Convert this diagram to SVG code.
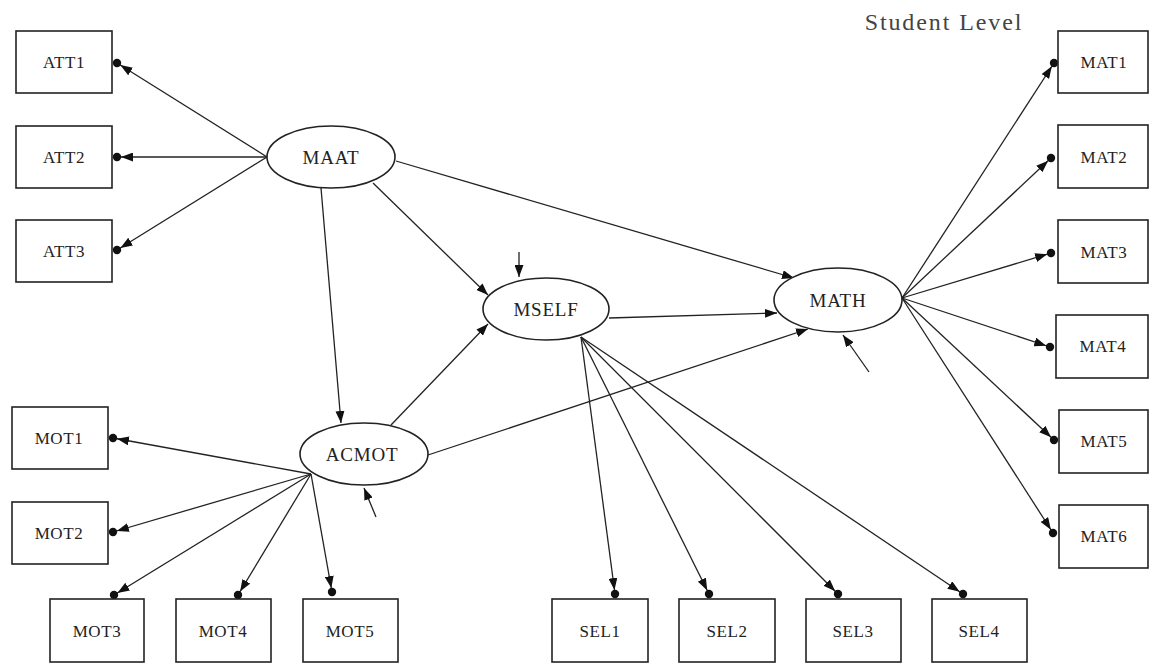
<svg xmlns="http://www.w3.org/2000/svg" width="1150" height="663" viewBox="0 0 1150 663">
<style>
.box{fill:#fff;stroke:#222;stroke-width:1.6}
.ell{fill:#fff;stroke:#222;stroke-width:1.6}
.bl{font-family:"Liberation Serif",serif;font-size:17px;letter-spacing:0.6px;fill:#222;text-anchor:middle}
.el{font-family:"Liberation Serif",serif;font-size:19px;letter-spacing:0.8px;fill:#222;text-anchor:middle}
.ind{fill:none;stroke:#222;stroke-width:1.3;marker-end:url(#ah2)}
.str{fill:none;stroke:#222;stroke-width:1.3;marker-end:url(#ah)}
.dot{fill:#111}
</style>
<defs>
<marker id="ah" markerUnits="userSpaceOnUse" markerWidth="13" markerHeight="9" refX="12" refY="4.5" orient="auto"><path d="M0,0 L12,4.5 L0,9 z" fill="#111"/></marker>
<marker id="ah2" markerUnits="userSpaceOnUse" markerWidth="18" markerHeight="9" refX="16" refY="4.5" orient="auto"><path d="M0,0 L12,4.5 L0,9 z" fill="#111"/></marker>
</defs>
<rect width="1150" height="663" fill="#fff"/>
<text x="944" y="30" font-family="Liberation Serif, serif" font-size="24" letter-spacing="1.9" fill="#444" text-anchor="middle">Student Level</text>
<g id="connectors">
<path class="ind" d="M267,157 L117,63"/>
<path class="ind" d="M267,157 L117,157"/>
<path class="ind" d="M267,157 L117,250"/>
<path class="ind" d="M902,298 L1054,63"/>
<path class="ind" d="M902,298 L1051,158"/>
<path class="ind" d="M902,298 L1051,253"/>
<path class="ind" d="M902,298 L1050,347"/>
<path class="ind" d="M902,298 L1054,440"/>
<path class="ind" d="M902,298 L1053,533"/>
<path class="ind" d="M311,474 L113,438"/>
<path class="ind" d="M311,474 L113,532"/>
<path class="ind" d="M311,474 L114,595"/>
<path class="ind" d="M311,474 L238,595"/>
<path class="ind" d="M311,474 L332,592"/>
<path class="ind" d="M581,337 L615,594"/>
<path class="ind" d="M581,337 L709,594"/>
<path class="ind" d="M581,337 L838,594"/>
<path class="ind" d="M581,337 L963,594"/>
<path class="str" d="M321,188 L341,423"/>
<path class="str" d="M373,183 L488,295"/>
<path class="str" d="M396,161 L794,278"/>
<path class="str" d="M609,318 L777,313"/>
<path class="str" d="M391,425 L488,324"/>
<path class="str" d="M428,455 L808,329"/>
<path class="str" d="M519,252 L519,277"/>
<path class="str" d="M869,372 L843,335"/>
<path class="str" d="M376,517 L364,488"/>
<g class="dot">
<circle cx="117" cy="63" r="4.2"/><circle cx="117" cy="157" r="4.2"/><circle cx="117" cy="250" r="4.2"/>
<circle cx="1054" cy="63" r="4.2"/><circle cx="1051" cy="158" r="4.2"/><circle cx="1051" cy="253" r="4.2"/>
<circle cx="1050" cy="347" r="4.2"/><circle cx="1054" cy="440" r="4.2"/><circle cx="1053" cy="533" r="4.2"/>
<circle cx="113" cy="438" r="4.2"/><circle cx="113" cy="532" r="4.2"/><circle cx="114" cy="595" r="4.2"/>
<circle cx="238" cy="595" r="4.2"/><circle cx="332" cy="592" r="4.2"/>
<circle cx="615" cy="594" r="4.2"/><circle cx="709" cy="594" r="4.2"/><circle cx="838" cy="594" r="4.2"/><circle cx="963" cy="594" r="4.2"/>
</g>
</g>
<g id="MAAT"><ellipse class="ell" cx="331" cy="157" rx="64" ry="31"/><text class="el" x="331" y="164">MAAT</text></g>
<g id="MSELF"><ellipse class="ell" cx="546" cy="309" rx="63" ry="31"/><text class="el" x="546" y="316">MSELF</text></g>
<g id="MATH"><ellipse class="ell" cx="838" cy="300" rx="64" ry="32"/><text class="el" x="838" y="307">MATH</text></g>
<g id="ACMOT"><ellipse class="ell" cx="364" cy="454" rx="64" ry="31"/><text class="el" x="362" y="461">ACMOT</text></g>
<g id="ATT1"><rect class="box" x="16" y="31" width="96" height="62"/><text class="bl" x="64" y="68">ATT1</text></g>
<g id="ATT2"><rect class="box" x="16" y="126" width="96" height="62"/><text class="bl" x="64" y="163">ATT2</text></g>
<g id="ATT3"><rect class="box" x="16" y="220" width="96" height="62"/><text class="bl" x="64" y="257">ATT3</text></g>
<g id="MAT1"><rect class="box" x="1058" y="31" width="90" height="62"/><text class="bl" x="1104" y="68">MAT1</text></g>
<g id="MAT2"><rect class="box" x="1058" y="125" width="90" height="63"/><text class="bl" x="1104" y="163">MAT2</text></g>
<g id="MAT3"><rect class="box" x="1058" y="220" width="90" height="63"/><text class="bl" x="1104" y="258">MAT3</text></g>
<g id="MAT4"><rect class="box" x="1056" y="315" width="92" height="63"/><text class="bl" x="1103" y="352">MAT4</text></g>
<g id="MAT5"><rect class="box" x="1059" y="410" width="89" height="63"/><text class="bl" x="1104" y="447">MAT5</text></g>
<g id="MAT6"><rect class="box" x="1059" y="505" width="89" height="63"/><text class="bl" x="1104" y="542">MAT6</text></g>
<g id="MOT1"><rect class="box" x="12" y="407" width="96" height="62"/><text class="bl" x="59" y="444">MOT1</text></g>
<g id="MOT2"><rect class="box" x="12" y="502" width="96" height="62"/><text class="bl" x="59" y="539">MOT2</text></g>
<g id="MOT3"><rect class="box" x="50" y="599" width="94" height="63"/><text class="bl" x="97" y="637">MOT3</text></g>
<g id="MOT4"><rect class="box" x="176" y="599" width="95" height="63"/><text class="bl" x="223" y="637">MOT4</text></g>
<g id="MOT5"><rect class="box" x="303" y="599" width="95" height="63"/><text class="bl" x="350" y="637">MOT5</text></g>
<g id="SEL1"><rect class="box" x="552" y="599" width="96" height="63"/><text class="bl" x="600" y="637">SEL1</text></g>
<g id="SEL2"><rect class="box" x="679" y="599" width="96" height="63"/><text class="bl" x="727" y="637">SEL2</text></g>
<g id="SEL3"><rect class="box" x="806" y="599" width="95" height="63"/><text class="bl" x="853" y="637">SEL3</text></g>
<g id="SEL4"><rect class="box" x="932" y="599" width="95" height="63"/><text class="bl" x="979" y="637">SEL4</text></g>
</svg>
